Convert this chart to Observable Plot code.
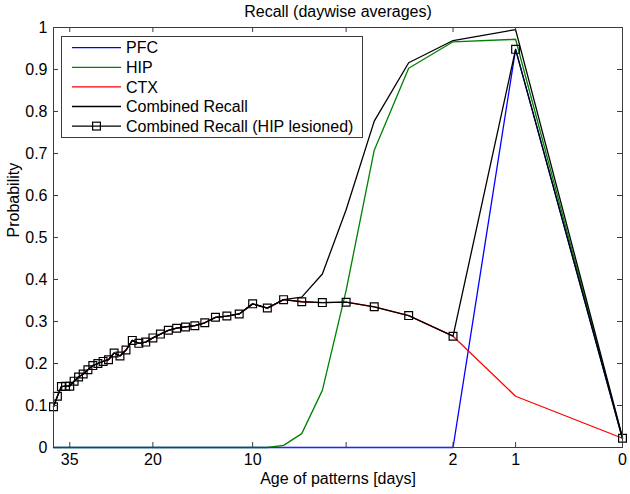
<!DOCTYPE html>
<html><head><meta charset="utf-8">
<script src="https://cdn.jsdelivr.net/npm/d3@7"></script>
<script src="https://cdn.jsdelivr.net/npm/@observablehq/plot@0.6"></script>
<style>
body{margin:0;background:#fff;}
#chart{position:absolute;left:0;top:0;}
</style></head><body><div id="chart"></div>
<script>
// Age of patterns in days (oldest first)
const ages = [39,38,37,36,35,34,33,32,31,30,29,28,27,26,25,24,23,22,21,20,19,18,17,16,15,14,13,12,11,10,9,8,7,6,5,4,3,2,1,0];
const pfc = [0,0,0,0,0,0,0,0,0,0,0,0,0,0,0,0,0,0,0,0,0,0,0,0,0,0,0,0,0,0,0,0,0,0,0,0,0,0,0.948,0.02];
const hip = [0,0,0,0,0,0,0,0,0,0,0,0,0,0,0,0,0,0,0,0,0,0,0,0,0,0,0,0,0,0,0,0.005,0.033,0.136,0.374,0.708,0.903,0.966,0.972,0.021];
const ctx = [0.097,0.122,0.145,0.146,0.146,0.158,0.168,0.175,0.185,0.195,0.200,0.205,0.209,0.225,0.218,0.232,0.255,0.248,0.251,0.261,0.270,0.279,0.284,0.287,0.290,0.297,0.310,0.313,0.318,0.342,0.332,0.352,0.347,0.345,0.346,0.335,0.314,0.265,0.122,0.022];
const combined = [0.097,0.122,0.145,0.146,0.146,0.158,0.168,0.175,0.185,0.195,0.200,0.205,0.209,0.225,0.218,0.232,0.255,0.248,0.251,0.261,0.270,0.279,0.284,0.287,0.290,0.297,0.310,0.313,0.318,0.342,0.332,0.352,0.358,0.413,0.566,0.777,0.916,0.969,0.995,0.024];
const lesioned = [0.097,0.122,0.145,0.146,0.146,0.158,0.168,0.175,0.185,0.195,0.200,0.205,0.209,0.225,0.218,0.232,0.255,0.248,0.251,0.261,0.270,0.279,0.284,0.287,0.290,0.297,0.310,0.313,0.318,0.342,0.332,0.352,0.347,0.345,0.346,0.335,0.314,0.265,0.948,0.022];

const xTickDays = [35,20,10,5,2,1,0];
const yTicks = [0,0.1,0.2,0.3,0.4,0.5,0.6,0.7,0.8,0.9,1];
const seriesNames = ["PFC","HIP","CTX","Combined Recall","Combined Recall (HIP lesioned)"];
const seriesColors = ["#0000ff","#008000","#ff0000","#000000","#000000"];
const title = "Recall (daywise averages)";
const xLabel = "Age of patterns [days]";
const yLabel = "Probability";

const rows = ages.map((a,i)=>({age:a, pfc:pfc[i], hip:hip[i], ctx:ctx[i], combined:combined[i], lesioned:lesioned[i]}));

const W=630, H=494, mL=53, mR=8, mT=27, mB=47;
const iw = W-mL-mR, ih = H-mT-mB;
const axisColor = "#3c3c3c";
const font = "'Liberation Sans', Arial, Helvetica, sans-serif";
const FS = 16;
const X = d => d.age + 1;

const chart = Plot.plot({
  width: W, height: H,
  marginLeft: mL, marginRight: mR, marginTop: mT, marginBottom: mB,
  style: {fontFamily: font, fontSize: FS + "px", background: "#fff", color: "#000", overflow: "visible"},
  x: {type: "log", domain: [40, 1], label: null},
  y: {domain: [0, 1], label: null},
  marks: [
    Plot.line(rows, {x: X, y: "pfc", stroke: seriesColors[0], strokeWidth: 1.3}),
    Plot.line(rows, {x: X, y: "hip", stroke: seriesColors[1], strokeWidth: 1.3}),
    Plot.line(rows, {x: X, y: "ctx", stroke: seriesColors[2], strokeWidth: 1.3}),
    Plot.line(rows, {x: X, y: "combined", stroke: seriesColors[3], strokeWidth: 1.3}),
    Plot.line(rows, {x: X, y: "lesioned", stroke: seriesColors[4], strokeWidth: 1.3}),
    Plot.dot(rows, {x: X, y: "lesioned", symbol: "square", r: 4.4, stroke: "#000", fill: "none", strokeWidth: 1.2}),
    Plot.frame({stroke: axisColor, strokeWidth: 1}),
    Plot.tickX(xTickDays, {x: d => d + 1, insetTop: ih - 5, stroke: axisColor}),
    Plot.tickX(xTickDays, {x: d => d + 1, insetBottom: ih - 5, stroke: axisColor}),
    Plot.tickY(yTicks, {y: d => d, insetRight: iw - 5, stroke: axisColor}),
    Plot.tickY(yTicks, {y: d => d, insetLeft: iw - 5, stroke: axisColor}),
    Plot.axisX(xTickDays.map(d => d + 1), {tickSize: 0, tickPadding: 6, tickFormat: d => String(d - 1), fontSize: FS, label: null}),
    Plot.axisY(yTicks, {tickSize: 0, tickPadding: 6, tickFormat: d => String(d), fontSize: FS, label: null}),
    Plot.text([xLabel], {text: d => d, frameAnchor: "bottom", dy: 31, fontSize: FS, lineAnchor: "middle"}),
    Plot.text([yLabel], {text: d => d, frameAnchor: "left", dx: -40, rotate: -90, fontSize: FS, lineAnchor: "middle"}),
    Plot.text([title], {text: d => d, frameAnchor: "top", dy: -16, fontSize: FS, lineAnchor: "middle"})
  ]
});
document.getElementById("chart").appendChild(chart);

// Legend (inside the axes, top-left)
const svg = d3.select(chart);
const lg = svg.append("g");
const lx = 61, ly = 36, lw = 301, lh = 101, rowH = 19.6, row0 = 47.7;
lg.append("rect").attr("x", lx + 0.5).attr("y", ly + 0.5).attr("width", lw).attr("height", lh)
  .attr("fill", "#fff").attr("stroke", axisColor);
seriesNames.forEach((name, i) => {
  const y = row0 + i * rowH;
  lg.append("line").attr("x1", 72).attr("x2", 121).attr("y1", y).attr("y2", y)
    .attr("stroke", seriesColors[i]).attr("stroke-width", 1.3);
  if (i === 4) {
    lg.append("rect").attr("x", 96.5 - 3.9).attr("y", y - 3.9).attr("width", 7.8).attr("height", 7.8)
      .attr("fill", "none").attr("stroke", "#000").attr("stroke-width", 1.2);
  }
  lg.append("text").attr("x", 126).attr("y", y).attr("dy", "0.35em")
    .attr("text-anchor", "start")
    .attr("font-family", font).attr("font-size", FS).attr("fill", "#000").text(name);
});
</script>
</body></html>
